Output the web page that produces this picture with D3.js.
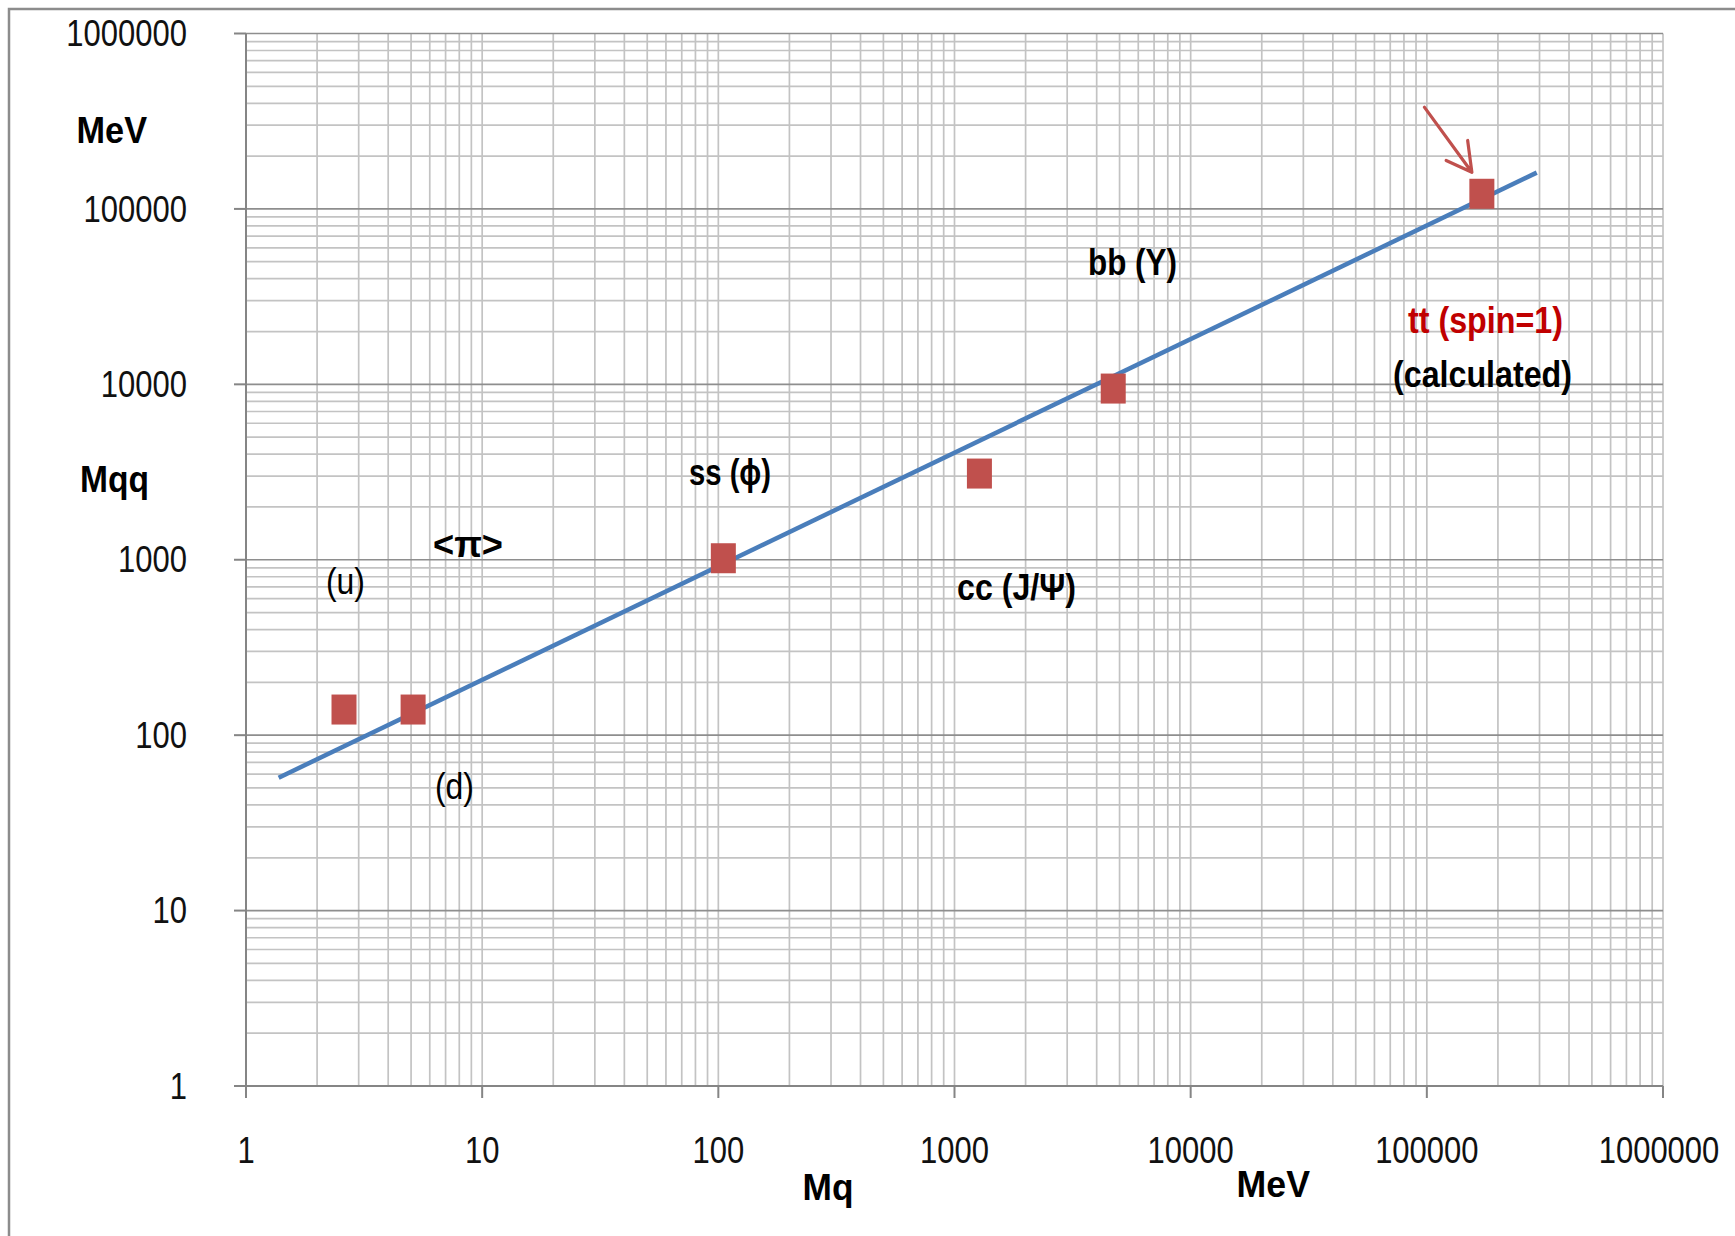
<!DOCTYPE html>
<html>
<head>
<meta charset="utf-8">
<script src="https://cdn.jsdelivr.net/npm/d3@7"></script>
<style>
  html, body { margin: 0; padding: 0; background: #ffffff; }
  svg { display: block; }
  text { font-family: "Liberation Sans", Arial, sans-serif; }
</style>
</head>
<body>
<svg id="chart" width="1735" height="1236"></svg>
<script>
// ---------------- data ----------------
const particles = ["u", "d", "s", "c", "b", "t"];
const mq  = [2.6, 5.1, 105, 1275, 4700, 171000];     // quark mass, MeV
const mqq = [140, 140, 1020, 3100, 9460, 122000];    // meson mass, MeV
const fitMq  = [1.375, 292000];                      // trend line ends
const fitMqq = [57.2, 161000];
const xTickLabels = ["1", "10", "100", "1000", "10000", "100000", "1000000"];
const yTickLabels = ["1", "10", "100", "1000", "10000", "100000", "1000000"];

// ---------------- layout ----------------
const W = 1735, H = 1236;
const plot = { left: 246, right: 1663, top: 33.5, bottom: 1086 };

const svg = d3.select("#chart");

const x = d3.scaleLog().domain([1, 1e6]).range([plot.left, plot.right]);
const y = d3.scaleLog().domain([1, 1e6]).range([plot.bottom, plot.top]);

// outer frame
svg.append("rect")
  .attr("x", 9).attr("y", 9)
  .attr("width", W + 20).attr("height", H + 20)
  .attr("fill", "none").attr("stroke", "#8c8c8c").attr("stroke-width", 2.5);

const isMajor = v => Math.abs(Math.log10(v) - Math.round(Math.log10(v))) < 1e-9;

// grid
const g = svg.append("g");
const xt = x.ticks();
const yt = y.ticks();

g.selectAll("line.vx").data(xt).join("line")
  .attr("x1", d => x(d)).attr("x2", d => x(d))
  .attr("y1", plot.top).attr("y2", plot.bottom)
  .attr("stroke", "#c3c3c3").attr("stroke-width", 1.7);

g.selectAll("line.hy").data(yt.filter(d => !isMajor(d))).join("line")
  .attr("x1", plot.left).attr("x2", plot.right)
  .attr("y1", d => y(d)).attr("y2", d => y(d))
  .attr("stroke", "#c3c3c3").attr("stroke-width", 1.7);

g.selectAll("line.hyM").data(yt.filter(d => isMajor(d))).join("line")
  .attr("x1", plot.left).attr("x2", plot.right)
  .attr("y1", d => y(d)).attr("y2", d => y(d))
  .attr("stroke", "#8e8e8e").attr("stroke-width", 1.7);

// axes
const axisColor = "#858585";
const yMaj = yt.filter(isMajor);
const xMaj = xt.filter(isMajor);
svg.append("line").attr("x1", plot.left).attr("x2", plot.left)
  .attr("y1", plot.top).attr("y2", plot.bottom + 12)
  .attr("stroke", axisColor).attr("stroke-width", 2);
svg.append("line").attr("x1", plot.left - 12).attr("x2", plot.right)
  .attr("y1", plot.bottom).attr("y2", plot.bottom)
  .attr("stroke", axisColor).attr("stroke-width", 2);
svg.selectAll("line.ytk").data(yMaj).join("line")
  .attr("x1", plot.left - 12).attr("x2", plot.left)
  .attr("y1", d => y(d)).attr("y2", d => y(d))
  .attr("stroke", axisColor).attr("stroke-width", 2);
svg.selectAll("line.xtk").data(xMaj).join("line")
  .attr("x1", d => x(d)).attr("x2", d => x(d))
  .attr("y1", plot.bottom).attr("y2", plot.bottom + 12)
  .attr("stroke", axisColor).attr("stroke-width", 2);

// tick labels: 31px text (natural digit width ~17.2px) stretched vertically
const tickFont = 31, tickStretch = 1.18;
svg.selectAll("text.ylab").data(yMaj).join("text")
  .attr("transform", d => `translate(187,${y(d) + 12.7}) scale(1,${tickStretch})`)
  .attr("text-anchor", "end")
  .attr("font-size", tickFont)
  .attr("fill", "#111")
  .text((d, i) => yTickLabels[i]);

svg.selectAll("text.xlab").data(xMaj).join("text")
  .attr("transform", (d, i) => `translate(${Math.min(x(d), W - 76)},1163) scale(1,${tickStretch})`)
  .attr("text-anchor", "middle")
  .attr("font-size", tickFont)
  .attr("fill", "#111")
  .text((d, i) => xTickLabels[i]);

// trend line
const line = d3.line().x(d => x(d[0])).y(d => y(d[1]));
svg.append("path")
  .datum(fitMq.map((v, i) => [v, fitMqq[i]]))
  .attr("d", line)
  .attr("fill", "none").attr("stroke", "#4a7ebb").attr("stroke-width", 4.5);

// markers
const mw = 25, mh = 30;
svg.selectAll("rect.pt").data(particles).join("rect")
  .attr("x", (d, i) => x(mq[i]) - mw / 2)
  .attr("y", (d, i) => y(mqq[i]) - mh / 2)
  .attr("width", mw).attr("height", mh)
  .attr("fill", "#c0504d");

// arrow pointing at the top-quark point
const tx = x(mq[5]), ty = y(mqq[5]);
const arrowColor = "#c0504d";
const tip = [tx - 10, ty - 21.5];
svg.append("path")
  .attr("d", `M${tx - 57.5},${ty - 86.6} L${tip[0]},${tip[1]}
              M${tx - 35.7},${ty - 33.3} L${tip[0]},${tip[1]} L${tx - 14.2},${ty - 53.3}`)
  .attr("fill", "none").attr("stroke", arrowColor)
  .attr("stroke-width", 3.2).attr("stroke-linecap", "round").attr("stroke-linejoin", "round");

// text labels: [text, x, baseline, width, weight, color]
const labels = [
  ["MeV", 76.5, 143, 70.5, "bold", "#000"],
  ["Mqq", 80, 491.5, 69, "bold", "#000"],
  ["<π>", 433, 557, 70, "bold", "#000"],
  ["(u)", 326, 594, 39, "normal", "#000"],
  ["(d)", 435, 799, 39, "normal", "#000"],
  ["ss (ϕ)", 689, 485, 82, "bold", "#000"],
  ["cc (J/Ψ)", 957, 600, 119, "bold", "#000"],
  ["bb (Y)", 1088, 275, 89, "bold", "#000"],
  ["tt (spin=1)", 1408, 333, 155, "bold", "#c00000"],
  ["(calculated)", 1393, 387, 179, "bold", "#000"],
  ["Mq", 802.5, 1200, 51, "bold", "#000"],
  ["MeV", 1236.6, 1197, 73.4, "bold", "#000"]
];
svg.selectAll("text.ann").data(labels).join("text")
  .attr("x", d => d[1]).attr("y", d => d[2])
  .attr("font-size", 37)
  .attr("font-weight", d => d[4])
  .attr("fill", d => d[5])
  .attr("textLength", d => d[3])
  .attr("lengthAdjust", "spacingAndGlyphs")
  .text(d => d[0]);
</script>
</body>
</html>
